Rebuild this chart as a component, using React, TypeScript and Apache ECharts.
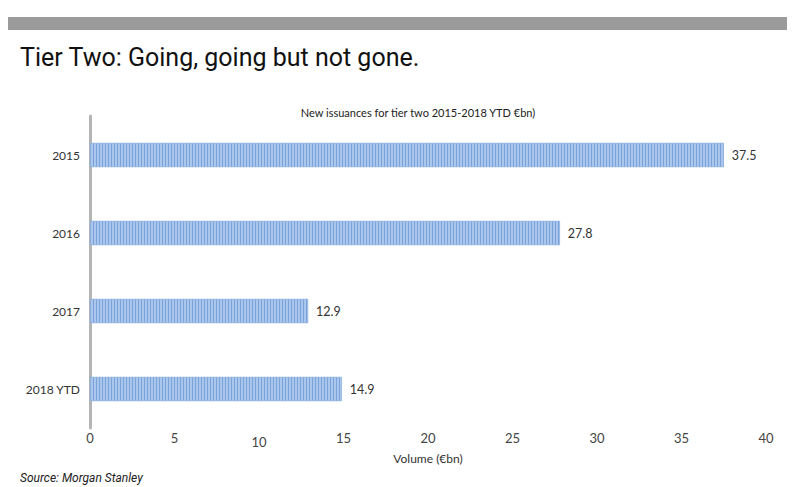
import React, { useEffect, useRef } from "react";
import * as echarts from "echarts";

const categories = ["2015", "2016", "2017", "2018 YTD"];
const volumes = [37.5, 27.8, 12.9, 14.9];
const xTicks = [0, 5, 10, 15, 20, 25, 30, 35, 40];

export default function App() {
  const ref = useRef<HTMLDivElement>(null);
  useEffect(() => {
    if (!ref.current) return;
    const chart = echarts.init(ref.current, undefined, { renderer: "svg" });
    chart.setOption({
      animation: false,
      backgroundColor: "#ffffff",
      aria: { enabled: false, decal: { show: true } },
      title: [
        {
          text: "Tier Two: Going, going but not gone.",
          left: 20,
          top: 45,
          padding: 0,
          textStyle: {
            fontFamily: "Roboto, sans-serif",
            fontWeight: "normal",
            fontSize: 25,
            color: "#111111",
          },
        },
        {
          text: "New issuances for tier two 2015-2018 YTD €bn)",
          left: 418,
          textAlign: "center",
          top: 107,
          padding: 0,
          textStyle: {
            fontFamily: "Lato, sans-serif",
            fontWeight: "normal",
            fontSize: 11,
            color: "#222222",
          },
        },
        {
          text: "Source: Morgan Stanley",
          left: 20,
          top: 472,
          padding: 0,
          textStyle: {
            fontFamily: "Roboto, sans-serif",
            fontStyle: "italic",
            fontWeight: "normal",
            fontSize: 12,
            color: "#222222",
          },
        },
      ],
      graphic: [
        {
          type: "rect",
          shape: { x: 8, y: 17, width: 779, height: 13 },
          style: { fill: "#9b9b9b" },
          silent: true,
        },
      ],
      grid: { left: 90, right: 34, top: 116, bottom: 59, containLabel: false },
      xAxis: {
        type: "value",
        min: 0,
        max: 40,
        interval: 5,
        name: "Volume (€bn)",
        nameLocation: "middle",
        nameGap: 24,
        nameTextStyle: { fontFamily: "Lato, sans-serif", fontSize: 12, color: "#333333" },
        axisLine: { show: false },
        axisTick: { show: false },
        splitLine: { show: false },
        axisLabel: {
          margin: 3,
          color: "#444444",
          fontFamily: "Lato, sans-serif",
          fontSize: 13,
          formatter: (v: number) => (xTicks.includes(v) ? (v === 10 ? "{low|" + v + "}" : String(v)) : ""),
          rich: { low: { padding: [4, 0, 0, 0], fontSize: 13, color: "#444444", fontFamily: "Lato, sans-serif" } },
        },
      },
      yAxis: {
        type: "category",
        data: categories,
        inverse: true,
        axisLine: { show: true, lineStyle: { color: "#b5b5b5", width: 3 } },
        axisTick: { show: false },
        axisLabel: {
          margin: 10,
          color: "#333333",
          fontFamily: "Lato, sans-serif",
          fontSize: 12,
        },
      },
      series: [
        {
          type: "bar",
          data: volumes,
          barWidth: 24,
          itemStyle: {
            color: "#aac6ec",
            borderColor: "#8fb0df",
            borderWidth: 0.5,
            decal: {
              symbol: "rect",
              symbolSize: 1,
              dashArrayX: [1, 2],
              dashArrayY: [10, 0],
              color: "#7aa3da",
              rotation: 0,
            },
          },
          label: {
            show: true,
            position: "right",
            distance: 8,
            color: "#333333",
            fontFamily: "Lato, sans-serif",
            fontSize: 12.5,
            formatter: (p: any) => p.value.toFixed(1),
          },
        },
      ],
    });
    return () => chart.dispose();
  }, []);
  return <div ref={ref} style={{ width: 800, height: 487, position: "absolute", left: 0, top: 0 }} />;
}
